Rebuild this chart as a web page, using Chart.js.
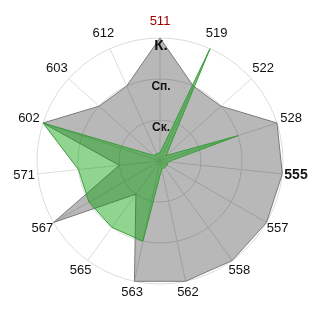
<!DOCTYPE html>
<html>
<head>
<meta charset="utf-8">
<script src="https://cdn.jsdelivr.net/npm/chart.js@4"></script>
<style>
  html, body { margin: 0; padding: 0; background: #ffffff; }
  #wrap { width: 320px; height: 320px; }
</style>
</head>
<body>
<div id="wrap"><canvas id="c" width="320" height="320"></canvas></div>
<script>
// ---- data ----
const categories = ['511','519','522','528','555','557','558','562','563','565','567','571','602','603','612'];
const greySeries = [3, 2, 2, 3, 3, 3, 3, 3, 3, 1, 3, 1, 3, 2, 2];
const greenSeries = [0.2, 3, 0.2, 2, 0.2, 0.2, 0.2, 0.2, 2, 2, 2, 2, 3, 0.2, 0.2];
const tickValues = [1, 2, 3];
const tickLabels = ['Ск.', 'Сп.', 'К.'];

// ---- styles (kept apart from data) ----
const labelColor = { '511': '#a00000' };
const labelFont = { '555': 'bold 14px "Liberation Sans", Arial, sans-serif' };
const defaultLabelFont = '13px "Liberation Sans", Arial, sans-serif';

const labelPlugin = {
  id: 'labels',
  afterDatasetsDraw(chart) {
    const scale = chart.scales.r;
    const ctx = chart.ctx;
    const n = categories.length;
    ctx.save();
    ctx.textAlign = 'center';
    ctx.textBaseline = 'middle';
    categories.forEach((lab, i) => {
      const a = i * 2 * Math.PI / n;
      const d = scale.drawingArea + 14 + 2.5 * Math.cos(a);
      const p = scale.getPointPosition(i, d);
      ctx.font = labelFont[lab] || defaultLabelFont;
      ctx.fillStyle = labelColor[lab] || '#111111';
      ctx.fillText(lab, p.x, p.y);
    });
    tickValues.forEach((v, i) => {
      const dist = scale.getDistanceFromCenterForValue(v);
      const size = v === 3 ? 15 : 12;
      ctx.font = 'bold ' + size + 'px "Liberation Sans", Arial, sans-serif';
      ctx.fillStyle = '#111111';
      ctx.fillText(tickLabels[i], scale.xCenter + 1, scale.yCenter - dist + 7.5);
    });
    ctx.restore();
  }
};

new Chart(document.getElementById('c'), {
  type: 'radar',
  data: {
    labels: categories,
    datasets: [
      {
        label: 'B',
        data: greenSeries,
        backgroundColor: 'rgba(0,160,0,0.44)',
        borderColor: '#3a9c3a',
        borderWidth: 1,
        pointRadius: 0,
        fill: true
      },
      {
        label: 'A',
        data: greySeries,
        backgroundColor: 'rgba(0,0,0,0.28)',
        borderColor: '#7a7a7a',
        borderWidth: 1,
        pointRadius: 0,
        fill: true
      }
    ]
  },
  options: {
    responsive: false,
    animation: false,
    devicePixelRatio: 1,
    layout: { padding: { left: 37, right: 37, top: 38, bottom: 36 } },
    plugins: { legend: { display: false }, tooltip: { enabled: false } },
    elements: { line: { tension: 0 } },
    scales: {
      r: {
        min: 0,
        max: 3,
        ticks: { display: false, stepSize: 1 },
        pointLabels: { display: false },
        grid: { circular: true, color: '#dcdcdc', lineWidth: 1 },
        angleLines: { color: '#dcdcdc', lineWidth: 1 }
      }
    }
  },
  plugins: [labelPlugin]
});
</script>
</body>
</html>
